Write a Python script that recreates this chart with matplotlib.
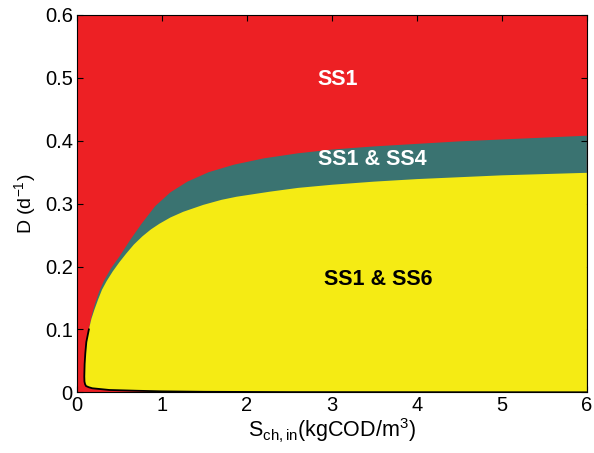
import matplotlib
matplotlib.use("Agg")
import matplotlib.pyplot as plt

plt.rcParams['font.family'] = ['Liberation Sans', 'DejaVu Sans']
plt.rcParams['mathtext.fontset'] = 'custom'
plt.rcParams['mathtext.rm'] = 'Liberation Sans'
plt.rcParams['mathtext.it'] = 'Liberation Sans:italic'
plt.rcParams['mathtext.bf'] = 'Liberation Sans:bold'

# Upper boundary (SS1 / SS1&SS4)
upper_S = [0.14, 0.17, 0.21, 0.26, 0.32, 0.40, 0.50, 0.62, 0.76, 0.92, 1.1, 1.3, 1.55,
           1.85, 2.2, 2.6, 3.0, 3.5, 4.0, 4.5, 5.0, 5.5, 6.0]
upper_D = [0.10, 0.12, 0.14, 0.16, 0.178, 0.197, 0.216, 0.241, 0.268, 0.296, 0.318, 0.335, 0.350,
           0.362, 0.372, 0.380, 0.386, 0.391, 0.395, 0.399, 0.402, 0.405, 0.408]

# Middle boundary (SS1&SS4 / SS1&SS6)
lower_S = [0.14, 0.17, 0.204, 0.25, 0.294, 0.35, 0.42, 0.5, 0.576, 0.67, 0.77, 0.87, 0.97,
           1.1, 1.25, 1.486, 1.7, 1.88, 2.27, 2.6, 3.0, 3.5, 4.0, 4.5, 5.0, 5.5, 6.0]
lower_D = [0.10, 0.117, 0.131, 0.148, 0.163, 0.177, 0.192, 0.207, 0.220, 0.235, 0.248, 0.259, 0.268,
           0.278, 0.287, 0.298, 0.306, 0.311, 0.319, 0.325, 0.330, 0.335, 0.339, 0.342, 0.345, 0.347, 0.349]

# Bottom boundary (black curve)
black_S = [0.14, 0.11, 0.098, 0.09, 0.086, 0.088, 0.095, 0.106, 0.14, 0.18, 0.38, 0.69, 1.0, 1.5, 2.5, 6.0]
black_D = [0.10, 0.08, 0.062, 0.045, 0.025, 0.017, 0.013, 0.010, 0.008, 0.0064, 0.0037, 0.0025, 0.0015, 0.0008, 0.0003, 0.0]

RED = '#ED2024'
TEAL = '#3A7371'
YELLOW = '#F5EB14'

fig = plt.figure(figsize=(5.94, 4.53), dpi=100)
ax = fig.add_axes([0.1296, 0.134, 0.8584, 0.833])
ax.set_facecolor(RED)

teal_x = list(upper_S) + [6.0] + list(black_S[::-1])
teal_y = list(upper_D) + [0.0] + list(black_D[::-1])
ax.fill(teal_x, teal_y, color=TEAL, lw=0, zorder=1)

yel_x = list(lower_S) + list(black_S[::-1])
yel_y = list(lower_D) + list(black_D[::-1])
ax.fill(yel_x, yel_y, color=YELLOW, lw=0, zorder=2)

ax.plot(black_S, black_D, color='black', lw=1.3, zorder=3, solid_joinstyle='round')

ax.text(3.07, 0.497, 'SS1', color='white', fontsize=15.5, fontweight='bold', ha='center', va='center')
ax.text(3.47, 0.37, 'SS1 & SS4', color='white', fontsize=15.5, fontweight='bold', ha='center', va='center')
ax.text(3.54, 0.18, 'SS1 & SS6', color='black', fontsize=15.5, fontweight='bold', ha='center', va='center')

ax.set_xlim(0, 6)
ax.set_ylim(0, 0.6)
ax.set_xticks([0, 1, 2, 3, 4, 5, 6])
ax.set_yticks([0, 0.1, 0.2, 0.3, 0.4, 0.5, 0.6])
ax.set_yticklabels(['0', '0.1', '0.2', '0.3', '0.4', '0.5', '0.6'])
ax.tick_params(direction='in', length=4, width=0.8, top=True, right=True, labelsize=14.5, pad=3)
ax.set_xlabel(r'S$_{\mathrm{ch,in}}$(kgCOD/m$^3$)', fontsize=15.5, labelpad=1)
ax.set_ylabel(r'D (d$^{-1}$)', fontsize=14, labelpad=5)
for s in ax.spines.values():
    s.set_linewidth(0.8)

fig.savefig('out.png', dpi=100)
